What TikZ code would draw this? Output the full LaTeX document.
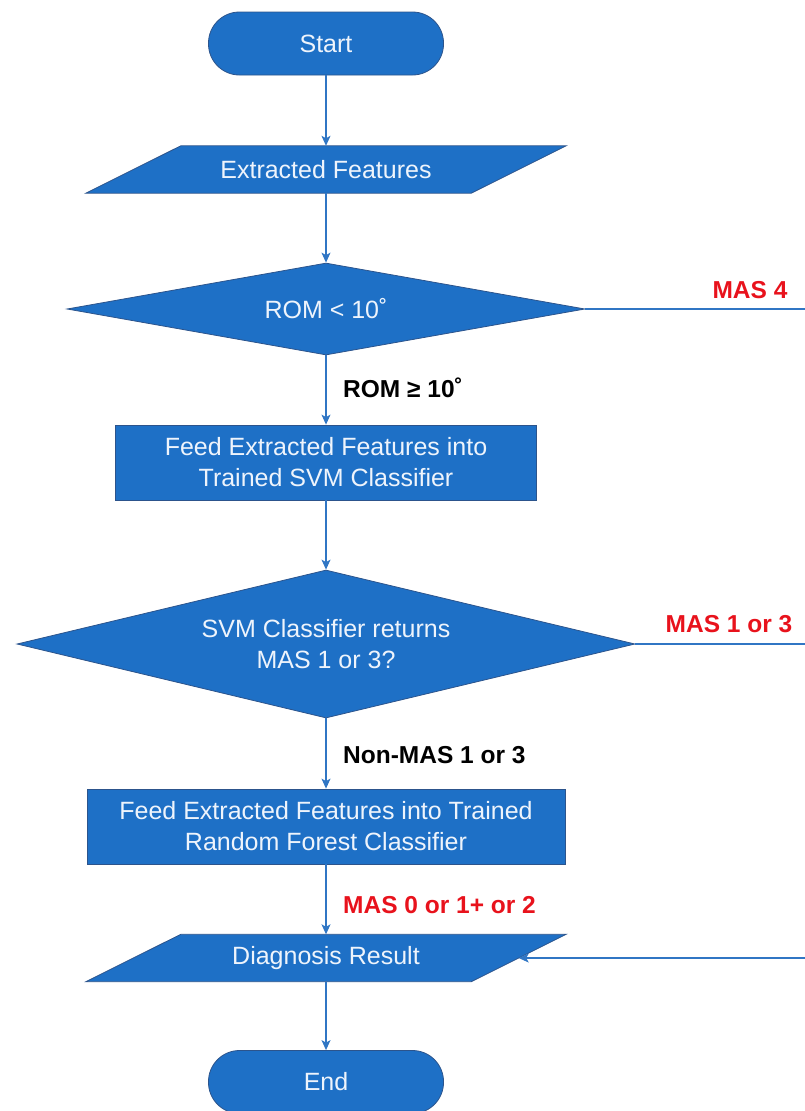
\documentclass[tikz,border=0pt]{standalone}
\usepackage{fontspec}
\setmainfont{Liberation Sans}
\usetikzlibrary{shapes.geometric,arrows.meta,backgrounds}
\definecolor{fillblue}{RGB}{30,112,198}
\definecolor{edgeblue}{RGB}{44,84,140}
\definecolor{lineblue}{RGB}{48,118,196}
\definecolor{labred}{RGB}{232,18,28}
\definecolor{txtwhite}{RGB}{238,244,252}
\begin{document}
\begin{tikzpicture}[x=1pt,y=-1pt,
  every node/.style={font=\fontsize{25}{31}\selectfont},
  shapebase/.style={fill=fillblue,draw=edgeblue,line width=0.8pt,text=txtwhite,align=center,inner sep=0pt},
  term/.style={shapebase,rectangle,rounded corners=31pt,minimum width=235pt,minimum height=63pt},
  procbox/.style={shapebase,rectangle,minimum height=75pt},
  decision/.style={shapebase,diamond,aspect=4},
  iobox/.style={rectangle,inner sep=0pt,minimum width=385pt,minimum height=47pt,text=txtwhite},
  iofill/.style={fill=fillblue,draw=edgeblue,line width=0.8pt},
  conn/.style={draw=lineblue,line width=1.1pt,-{Stealth[length=10pt,width=9pt,inset=2.5pt]}},
  plainline/.style={draw=lineblue,line width=1.1pt},
  blacklab/.style={font=\fontsize{24.5}{29}\bfseries\selectfont,text=black,anchor=west,inner sep=0pt},
  redlab/.style={font=\fontsize{24.5}{29}\bfseries\selectfont,text=labred,inner sep=0pt},
]
\useasboundingbox (0,0) rectangle (805,1111);

\node[term] (start) at (326,43.5) {Start};
\node[iobox] (feat) at (326,169.5) {Extracted Features};
\node[decision,minimum width=518pt,minimum height=92pt] (d1) at (326,309) {ROM < 10˚};
\node[procbox,minimum width=421pt] (r1) at (326,462.5) {Feed Extracted Features into\\Trained SVM Classifier};
\node[decision,minimum width=618pt,minimum height=148pt] (d2) at (326,644) {SVM Classifier returns\\MAS 1 or 3?};
\node[procbox,minimum width=478pt] (r2) at (326,826.5) {Feed Extracted Features into Trained\\Random Forest Classifier};
\node[iobox] (diag) at (326,958) {Diagnosis Result};
\node[term] (endn) at (326,1082) {End};

\begin{scope}[on background layer]
\foreach \n in {feat,diag}
  \path[iofill] ([xshift=-47.5pt]\n.south west) -- ([xshift=-47.5pt]\n.south east)
     -- ([xshift=47.5pt]\n.north east) -- ([xshift=47.5pt]\n.north west) -- cycle;
\end{scope}

\coordinate (c1) at (805.2,309);
\coordinate (c2) at (805.2,644);
\coordinate (c3) at (805.2,958);

\draw[conn] (start) -- (feat);
\draw[conn] (feat) -- (d1);
\draw[conn] (d1) -- (r1);
\draw[conn] (r1) -- (d2);
\draw[conn] (d2) -- (r2);
\draw[conn] (r2) -- (diag);
\draw[conn] (diag) -- (endn);
\draw[plainline] (d1.east) -- (c1);
\draw[plainline] (d2.east) -- (c2);
\draw[conn] (c1) -- (c3) -- (diag.east);

\node[blacklab] (l1) at (343,388) {ROM ≥ 10˚};
\node[blacklab] (l2) at (343,755) {Non-MAS 1 or 3};
\node[redlab,anchor=west] (l3) at (343,905) {MAS 0 or 1+ or 2};
\node[redlab] (l4) at (750,290) {MAS 4};
\node[redlab] (l5) at (729,624) {MAS 1 or 3};
\end{tikzpicture}
\end{document}
